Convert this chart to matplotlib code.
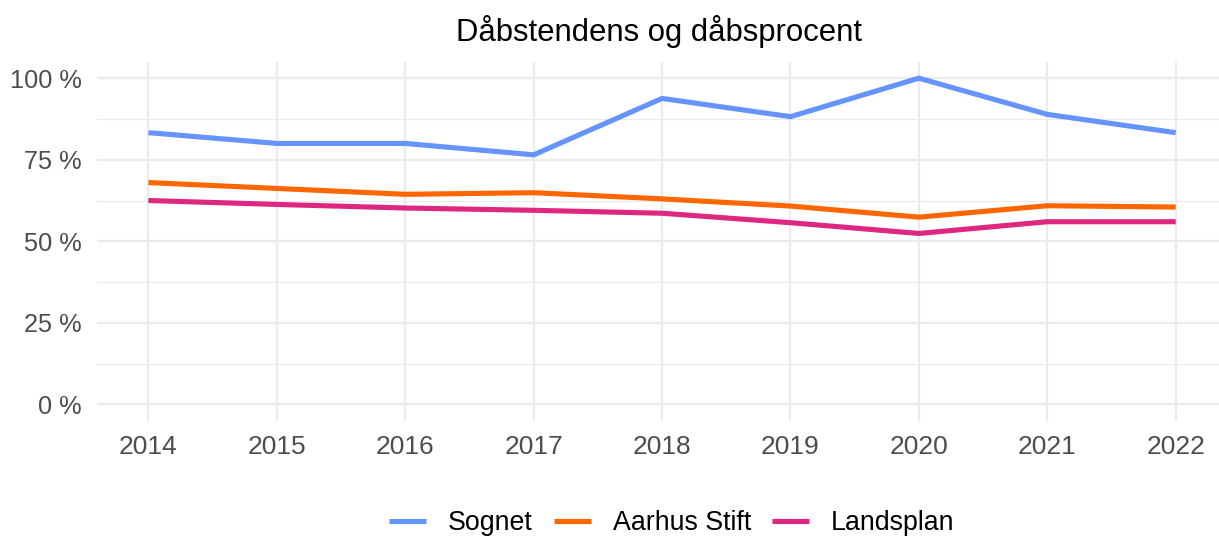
import matplotlib
matplotlib.use("Agg")
import matplotlib.pyplot as plt
from matplotlib.ticker import FuncFormatter, MultipleLocator


# Years on the x axis.
years = [2014, 2015, 2016, 2017, 2018, 2019, 2020, 2021, 2022]

# Baptism share in percent.
sognet = [83.3, 80.0, 80.0, 76.5, 93.8, 88.2, 100.0, 88.9, 83.3]
aarhus_stift = [68.0, 66.2, 64.4, 64.9, 63.0, 60.8, 57.4, 60.9, 60.5]
landsplan = [62.5, 61.3, 60.2, 59.5, 58.6, 55.7, 52.4, 56.0, 56.0]

series_names = ["Sognet", "Aarhus Stift", "Landsplan"]
series_colors = ["#6694FF", "#FF6600", "#DE2780"]

y_ticks = [0, 25, 50, 75, 100]
title = "Dåbstendens og dåbsprocent"

plt.rcParams["font.family"] = ["Liberation Sans", "DejaVu Sans"]

fig = plt.figure(figsize=(12.19, 5.38), dpi=100)

# Panel placed like ggplot's (its right edge runs slightly past the image).
ax = fig.add_axes([0.0796, 0.218, 0.9270, 0.667])

for values, name, color in zip([sognet, aarhus_stift, landsplan],
                               series_names, series_colors):
    ax.plot(years, values, color=color, linewidth=3.7, label=name,
            solid_capstyle="butt", zorder=3)

# ggplot's default 5 % expansion on both axes.
x_span = years[-1] - years[0]
ax.set_xlim(years[0] - 0.05 * x_span, years[-1] + 0.05 * x_span)
ax.set_ylim(-5, 105)

ax.set_xticks(years)
ax.set_yticks(y_ticks)
ax.yaxis.set_minor_locator(MultipleLocator(12.5))
ax.yaxis.set_major_formatter(FuncFormatter(lambda v, _: f"{v:.0f} %"))

ax.grid(True, which="major", color="#EBEBEB", linewidth=1.6, zorder=0)
ax.grid(True, which="minor", axis="y", color="#EBEBEB", linewidth=0.8, zorder=0)
ax.set_axisbelow(True)

for spine in ax.spines.values():
    spine.set_visible(False)

ax.tick_params(axis="both", which="both", length=0, labelcolor="#4D4D4D")
ax.tick_params(axis="y", labelsize=18.3, pad=11)
ax.tick_params(axis="x", labelsize=19, pad=10)

fig.text(0.541, 0.941, title, ha="center", va="center", fontsize=22.4,
         color="black")

# Legend sits at the very bottom; nudged up just enough to keep descenders inside.
fig.legend(loc="center", bbox_to_anchor=(0.551, 0.028), ncol=3,
           frameon=False, fontsize=19.3, handlelength=1.38,
           handletextpad=0.82, columnspacing=0.78)

fig.savefig("out.png", dpi=100)
